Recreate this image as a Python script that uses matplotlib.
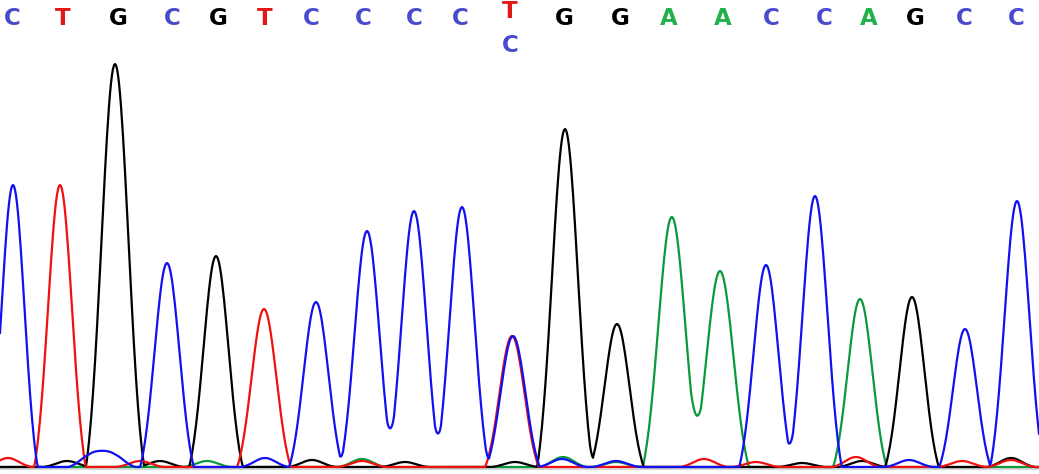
import numpy as np
import matplotlib
matplotlib.use("Agg")
import matplotlib.pyplot as plt

# ---- data -------------------------------------------------------------
# base calls (top row) and the secondary call under position 11
bases = ["C", "T", "G", "C", "G", "T", "C", "C", "C", "C", "T",
         "G", "G", "A", "A", "C", "C", "A", "G", "C", "C"]
base_x = [12, 63, 118, 172, 218, 265, 311, 363, 414, 460, 510,
          564, 620, 669, 723, 771, 824, 869, 915, 964, 1016]
secondary = {10: "C"}

# main peaks: channel, scan position, signal height, peak width
peak_channel = ["C", "T", "G", "C", "G", "T", "C", "C", "C", "C", "T", "C",
                "G", "G", "A", "A", "C", "C", "A", "G", "C", "C"]
peak_pos = [13, 60, 115, 167, 216, 264, 316, 367, 414, 462, 512, 513,
            565, 617, 672, 720, 766, 815, 860, 912, 965, 1017]
peak_height = [282, 282, 403, 204, 211, 158, 165, 236, 256, 260, 131, 131,
               338, 143, 248, 196, 202, 271, 168, 170, 138, 266]
peak_width = [11.5, 12.0, 13.5, 12.5, 12.5, 12.5, 12.5, 12.5, 12.5, 12.5,
              12.5, 12.5, 13.0, 12.5, 13.5, 13.5, 12.5, 12.5, 12.5, 12.5,
              12.0, 12.5]

# small background signals
bg_channel = ["T", "G", "C", "C", "T", "G", "A", "C", "G", "A", "T", "G",
              "G", "A", "C", "A", "C", "A", "T", "T", "G", "T", "C", "T",
              "G", "T", "G"]
bg_pos = [8, 67, 92, 112, 140, 160, 207, 265, 312, 362, 362, 405,
          515, 563, 562, 616, 616, 660, 704, 756, 802, 856, 909, 962,
          862, 1011, 1011]
bg_height = [9, 6, 13, 13, 6, 6, 6, 9, 7, 8, 6, 5,
             5, 10, 8, 5, 6, 4, 8, 5, 4, 10, 7, 6,
             6, 7, 9]

channel_color = {"A": "#0a9a3c", "C": "#1010f0", "G": "#000000", "T": "#f01010"}
letter_color = {"A": "#22b04a", "C": "#4a4ad0", "G": "#000000", "T": "#e01818"}

# ---- build traces -----------------------------------------------------
W, H = 1039, 474
baseline = 7
cut = 0.1
x = np.arange(0, W + 1, 1.0)


def peak_shape(d, s):
    g = np.exp(-d ** 2 / (2 * s ** 2))
    return np.clip((g - cut) / (1 - cut), 0, None)


traces = {k: np.full_like(x, baseline) for k in "ACGT"}
for ch, p, h, w in zip(peak_channel, peak_pos, peak_height, peak_width):
    traces[ch] += h * peak_shape(x - p, w)
for ch, p, h in zip(bg_channel, bg_pos, bg_height):
    traces[ch] += h * peak_shape(x - p, 11.0)

# ---- draw -------------------------------------------------------------
fig = plt.figure(figsize=(W / 100, H / 100), dpi=100)
ax = fig.add_axes([0, 0, 1, 1])
ax.set_xlim(0, W)
ax.set_ylim(0, H)
ax.axis("off")

ax.axhline(5, color="#d8d8d8", lw=1.5, zorder=0)
for ch in ["A", "G", "T", "C"]:
    ax.plot(x, traces[ch], color=channel_color[ch], lw=1.6,
            solid_joinstyle="round")

for i, (b, bx) in enumerate(zip(bases, base_x)):
    y = H - 18 if i not in secondary else H - 11
    ax.text(bx, y, b, color=letter_color[b], fontsize=16.5, fontweight="bold",
            ha="center", va="center", family="DejaVu Sans")
    if i in secondary:
        s = secondary[i]
        ax.text(bx, H - 45, s, color=letter_color[s], fontsize=16.5,
                fontweight="bold", ha="center", va="center",
                family="DejaVu Sans")

fig.savefig("out.png", dpi=100)
